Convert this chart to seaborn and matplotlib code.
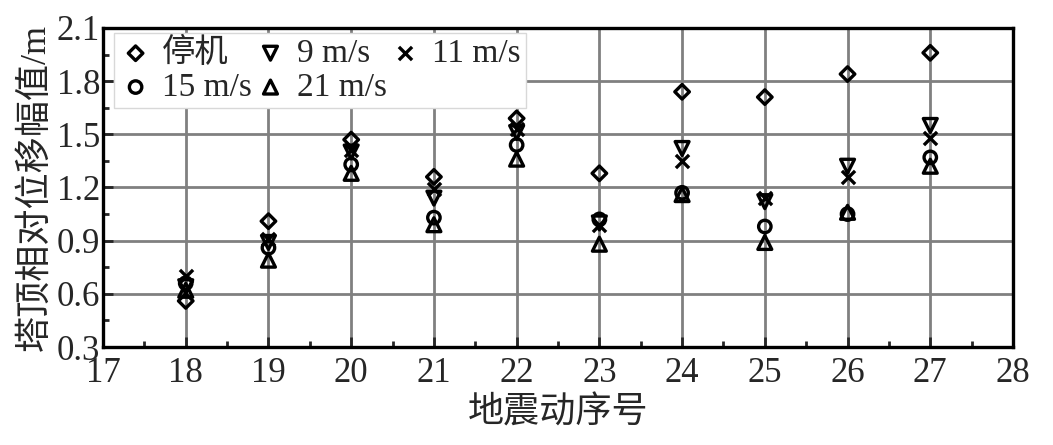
import numpy as np
import pandas as pd
import matplotlib
matplotlib.use("Agg")
import matplotlib.pyplot as plt
import seaborn as sns
from matplotlib.ticker import MultipleLocator

quake_no = [18, 19, 20, 21, 22, 23, 24, 25, 26, 27]
stop = [0.56, 1.01, 1.47, 1.26, 1.59, 1.28, 1.74, 1.71, 1.84, 1.96]
v9 = [0.64, 0.89, 1.40, 1.14, 1.51, 1.00, 1.42, 1.12, 1.32, 1.55]
v11 = [0.70, 0.91, 1.41, 1.19, 1.53, 0.99, 1.35, 1.14, 1.26, 1.48]
v15 = [0.66, 0.86, 1.33, 1.03, 1.44, 1.02, 1.17, 0.98, 1.05, 1.37]
v21 = [0.62, 0.79, 1.28, 0.99, 1.36, 0.88, 1.16, 0.89, 1.06, 1.32]

series_names = ["停机", "9 m/s", "11 m/s", "15 m/s", "21 m/s"]
series_vals = [stop, v9, v11, v15, v21]
markers = {"停机": "D", "9 m/s": "v", "11 m/s": "x", "15 m/s": "o", "21 m/s": "^"}
sizes = {"停机": 55, "9 m/s": 100, "11 m/s": 90, "15 m/s": 80, "21 m/s": 100}

df = pd.DataFrame({
    "地震动序号": np.tile(quake_no, len(series_names)),
    "位移": np.concatenate(series_vals),
    "工况": np.repeat(series_names, len(quake_no)),
})

sns.set_style("ticks")
plt.rcParams["font.family"] = ["Liberation Serif", "Noto Sans CJK SC"]

fig = plt.figure(figsize=(10.53, 4.45), dpi=100)
ax = fig.add_axes([103 / 1053, 1 - 347 / 445, 910 / 1053, 319 / 445])

handles = {}
for name in series_names:
    sub = df[df["工况"] == name]
    sns.scatterplot(data=sub, x="地震动序号", y="位移", marker=markers[name],
                    s=sizes[name], color="k", ax=ax, zorder=3, legend=False)
    pts = ax.collections[-1]
    if markers[name] != "x":
        pts.set_facecolor("none")
    pts.set_edgecolor("k")
    pts.set_linewidth(2.4)
    pts.set_label(name)
    handles[name] = pts

ax.set_xlim(17, 28)
ax.set_ylim(0.3, 2.1)
ax.set_xticks(range(17, 29))
yt = np.arange(0.3, 2.11, 0.3)
ax.set_yticks(yt)
ax.set_yticklabels([f"{v:.1f}" for v in yt])
ax.xaxis.set_minor_locator(MultipleLocator(0.5))
ax.yaxis.set_minor_locator(MultipleLocator(0.15))
ax.grid(True, which="major", color="#808080", linewidth=2.0)
ax.set_axisbelow(True)
ax.tick_params(which="both", direction="in", top=False, right=False,
               width=2.0, labelsize=25)
ax.tick_params(axis="x", pad=7)
ax.tick_params(axis="y", pad=2)
ax.tick_params(which="major", length=7)
ax.tick_params(which="minor", length=4)
for sp in ax.spines.values():
    sp.set_linewidth(2.4)
    sp.set_color("k")
    sp.set_zorder(4)

ax.set_xlabel("地震动序号", fontsize=26, labelpad=5)
ax.set_ylabel("塔顶相对位移幅值/m", fontsize=26, labelpad=3)

order = ["停机", "15 m/s", "9 m/s", "21 m/s", "11 m/s"]
leg = ax.legend([handles[n] for n in order], order, ncol=3, loc="upper left",
                bbox_to_anchor=(0.012, 0.985), borderaxespad=0, fontsize=24,
                frameon=True, fancybox=False, framealpha=1, edgecolor="#d8d8d8",
                handlelength=1.0, handletextpad=0.3, columnspacing=0.05,
                labelspacing=0.1, borderpad=0.15)
leg.get_frame().set_linewidth(1.0)
leg.set_zorder(5)

fig.savefig("out.png", dpi=100)
